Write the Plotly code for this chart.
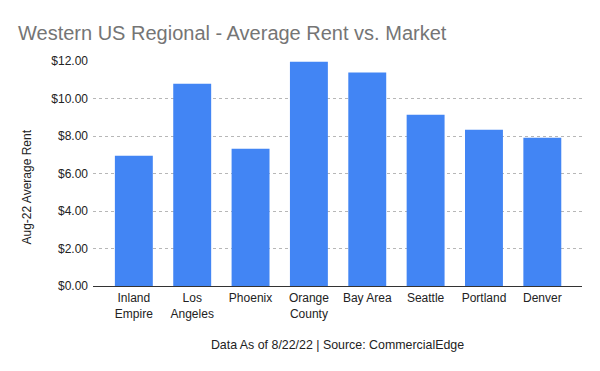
import plotly.graph_objects as go

markets = ["Inland<br>Empire", "Los<br>Angeles", "Phoenix", "Orange<br>County",
           "Bay Area", "Seattle", "Portland", "Denver"]
avg_rent = [6.95, 10.79, 7.32, 11.96, 11.38, 9.14, 8.34, 7.91]
y_ticks = [0, 2, 4, 6, 8, 10, 12]
y_tick_labels = ["$0.00", "$2.00", "$4.00", "$6.00", "$8.00", "$10.00", "$12.00"]

FONT = "Arial, 'Liberation Sans', sans-serif"

fig = go.Figure(go.Bar(
    x=list(range(len(markets))),
    y=avg_rent,
    marker=dict(color="#4285F4", line=dict(width=0)),
    width=0.65,
))

fig.update_layout(
    width=600, height=371,
    paper_bgcolor="white", plot_bgcolor="white",
    margin=dict(l=93, r=18, t=61, b=85, autoexpand=False),
    font=dict(family=FONT, color="#222222", size=12),
    title=dict(text="Western US Regional - Average Rent vs. Market",
               x=18/600, xref="container", xanchor="left",
               y=1 - 33/371, yref="container", yanchor="middle",
               font=dict(family=FONT, size=20, color="#757575")),
    showlegend=False,
    annotations=[dict(
        text="Aug-22 Average Rent", textangle=-90,
        xref="paper", yref="paper",
        x=(26 - 93) / 489, y=(286 - 187.5) / 225,
        xanchor="center", yanchor="middle", showarrow=False,
        font=dict(family=FONT, size=12, color="#222222"),
    )],
)

fig.update_xaxes(
    automargin=False,
    range=[-0.70, 7.68],
    tickmode="array", tickvals=list(range(len(markets))), ticktext=markets,
    showgrid=False, showline=False, zeroline=False, ticks="",
    tickfont=dict(family=FONT, size=12, color="#222222"),
    ticklabelstandoff=3,
    title=dict(text="Data As of 8/22/22 | Source: CommercialEdge",
               font=dict(family=FONT, size=12.4, color="#222222"), standoff=20),
)
fig.update_yaxes(
    automargin=False,
    range=[0, 12],
    tickmode="array", tickvals=y_ticks, ticktext=y_tick_labels,
    showgrid=True, gridcolor="#b7b7b7", griddash="dot", gridwidth=1,
    zeroline=True, zerolinecolor="#333333", zerolinewidth=1,
    tickfont=dict(family=FONT, size=12, color="#222222"),
    ticklabelstandoff=4,
)

fig.write_html("out.html", config={"displayModeBar": False},
               post_script="document.body.style.margin='0';")
